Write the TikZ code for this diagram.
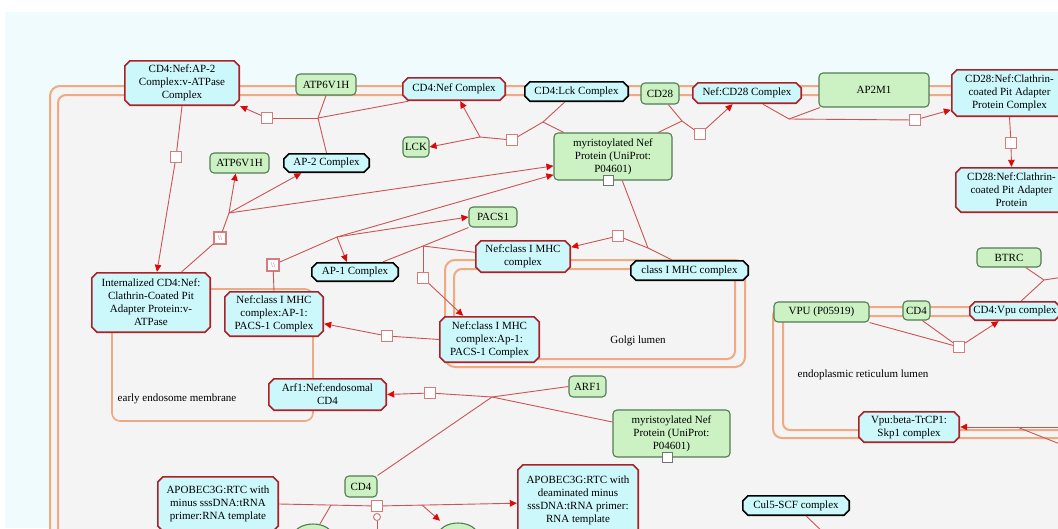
\documentclass[tikz,border=0pt]{standalone}
\usepackage{fontspec}
\setmainfont{Liberation Serif}
\usetikzlibrary{arrows.meta,calc,shapes.geometric}

\definecolor{cxfill}{RGB}{204,247,251}
\definecolor{cxred}{RGB}{172,32,40}
\definecolor{prfill}{RGB}{204,242,196}
\definecolor{prline}{RGB}{84,124,84}
\definecolor{membc}{RGB}{240,170,130}
\definecolor{rxnc}{RGB}{204,84,84}
\definecolor{arrc}{RGB}{222,8,8}
\definecolor{procbd}{RGB}{214,124,124}
\definecolor{cellbg}{RGB}{244,244,244}
\definecolor{outbg}{RGB}{239,251,252}

\begin{document}
\begin{tikzpicture}[x=1pt,y=-1pt,
  lbl/.style={font=\fontsize{11}{13}\selectfont, inner sep=0pt, align=center},
  % octagonal (chamfered) frame drawn inside the node box
  octbox/.style 2 args={path picture={
    \filldraw[draw=#1, fill=#2, line width=1.6pt, line join=miter]
      ([shift={(6pt,-0.8pt)}]path picture bounding box.north west)
      -- ([shift={(-6pt,-0.8pt)}]path picture bounding box.north east)
      -- ([shift={(-0.8pt,-6pt)}]path picture bounding box.north east)
      -- ([shift={(-0.8pt,6pt)}]path picture bounding box.south east)
      -- ([shift={(-6pt,0.8pt)}]path picture bounding box.south east)
      -- ([shift={(6pt,0.8pt)}]path picture bounding box.south west)
      -- ([shift={(0.8pt,6pt)}]path picture bounding box.south west)
      -- ([shift={(0.8pt,-6pt)}]path picture bounding box.north west)
      -- cycle;}},
  cplx/.style={lbl, rectangle, octbox={cxred}{cxfill}},
  cplxk/.style={lbl, rectangle, octbox={black}{cxfill}},
  prot/.style={lbl, rectangle, rounded corners=4pt, draw=prline, fill=prfill, line width=1.1pt},
  protel/.style={ellipse, draw=prline, fill=prfill, line width=1.1pt, inner sep=0pt},
  proc/.style={rectangle, draw=procbd, fill=white, line width=1.1pt, minimum size=11pt, inner sep=0pt},
  hproc/.style={proc, minimum size=12pt, text=rxnc, font=\fontsize{7.5}{7.5}\selectfont},
  statebox/.style={rectangle, draw=black!55, fill=white, line width=0.9pt, minimum size=10pt, inner sep=0pt},
  catal/.style={circle, draw=procbd, fill=white, line width=1pt, minimum size=7pt, inner sep=0pt},
  rx/.style={draw=rxnc, line width=0.9pt},
  rxa/.style={rx, -{Triangle[length=7pt,width=6.5pt,color=arrc]}},
  memb/.style={draw=membc, line width=2pt},
]
\useasboundingbox (0,0) rectangle (1058,528);
\clip (0,0) rectangle (1058,528);

% page and cell backgrounds
\fill[white] (0,0) rectangle (1058,528);
\fill[outbg] (5,12) rectangle (1058,528);
\fill[cellbg, rounded corners=10pt] (50,86) rectangle (1100,570);

% membranes
\draw[memb, rounded corners=10pt] (1100,86) -- (50,86) -- (50,570);
\draw[memb, rounded corners=8pt] (1100,95) -- (58,95) -- (58,570);
\draw[memb, rounded corners=10pt] (445,260) rectangle (745,367);
\draw[memb, rounded corners=8pt] (454,269) rectangle (735,359);
\draw[memb, rounded corners=9pt] (1100,307) -- (773,307) -- (773,438) -- (1100,438);
\draw[memb, rounded corners=7pt] (1100,316) -- (783,316) -- (783,430) -- (1100,430);
\draw[memb, line width=1.6pt, rounded corners=8pt] (112,289) rectangle (313,421);

% compartment names
\node[lbl] (golgi) at (638,341) {Golgi lumen};
\node[lbl] (eem) at (177,399) {early endosome membrane};
\node[lbl] (erl) at (863,375) {endoplasmic reticulum lumen};

% entities
\node[cplx, minimum width=116pt, minimum height=46pt] (ap2v) at (182,83) {CD4:Nef:AP-2\\Complex:v-ATPase\\Complex};
\node[prot, minimum width=60pt, minimum height=21pt] (atptop) at (326,84.5) {ATP6V1H};
\node[cplx, minimum width=104pt, minimum height=24pt] (cd4nef) at (454,89) {CD4:Nef Complex};
\node[cplxk, minimum width=105pt, minimum height=21pt] (cd4lck) at (576.5,91.5) {CD4:Lck Complex};
\node[prot, minimum width=38pt, minimum height=21pt] (cd28) at (660,93.5) {CD28};
\node[cplx, minimum width=110pt, minimum height=22pt] (nefcd28) at (747,93) {Nef:CD28 Complex};
\node[prot, minimum width=110pt, minimum height=34pt] (ap2m1) at (874,90) {AP2M1};
\node[cplx, minimum width=117pt, minimum height=48pt] (cd28clx) at (1009.5,93) {CD28:Nef:Clathrin-\\coated Pit Adapter\\Protein Complex};
\node[cplx, minimum width=113pt, minimum height=46pt] (cd28cl) at (1011.5,190) {CD28:Nef:Clathrin-\\coated Pit Adapter\\Protein};
\node[prot, minimum width=26pt, minimum height=20pt] (lck) at (416,147) {LCK};
\node[cplxk, minimum width=87pt, minimum height=20pt] (ap2) at (326.5,163) {AP-2 Complex};
\node[prot, minimum width=59pt, minimum height=20pt] (atp2) at (239.5,163) {ATP6V1H};
\node[prot, minimum width=118pt, minimum height=47pt] (myrnef1) at (613,156.5) {myristoylated Nef\\Protein (UniProt:\\P04601)};
\node[prot, minimum width=48pt, minimum height=20pt] (pacs1) at (493,217) {PACS1};
\node[cplx, minimum width=96pt, minimum height=33pt] (nefmhc) at (523,256.5) {Nef:class I MHC\\complex};
\node[cplxk, minimum width=119pt, minimum height=21pt] (mhc) at (689.5,270.5) {class I MHC complex};
\node[cplxk, minimum width=88pt, minimum height=20pt] (ap1) at (355,272) {AP-1 Complex};
\node[cplx, minimum width=100pt, minimum height=46pt] (nefmhcap1a) at (274,314) {Nef:class I MHC\\complex:AP-1:\\PACS-1 Complex};
\node[cplx, minimum width=120pt, minimum height=61pt] (internal) at (151,302.5) {Internalized CD4:Nef:\\Clathrin-Coated Pit\\Adapter Protein:v-\\ATPase};
\node[cplx, minimum width=101pt, minimum height=47pt] (nefmhcap1b) at (489.5,339.5) {Nef:class I MHC\\complex:Ap-1:\\PACS-1 Complex};
\node[cplx, minimum width=119pt, minimum height=33pt] (arf1cx) at (327.5,394.5) {Arf1:Nef:endosomal\\CD4};
\node[prot, minimum width=37pt, minimum height=21pt] (arf1) at (587.5,386.5) {ARF1};
\node[prot, minimum width=117pt, minimum height=47pt] (myrnef2) at (671.5,433.5) {myristoylated Nef\\Protein (UniProt:\\P04601)};
\node[cplx, minimum width=122pt, minimum height=72pt] (apodeam) at (578,500) {APOBEC3G:RTC with\\deaminated minus\\sssDNA:tRNA primer:\\RNA template};
\node[cplx, minimum width=122pt, minimum height=56pt] (apominus) at (218,504) {APOBEC3G:RTC with\\minus sssDNA:tRNA\\primer:RNA template};
\node[prot, minimum width=32pt, minimum height=21pt] (cd4low) at (361,486.5) {CD4};
\node[prot, minimum width=95pt, minimum height=20pt] (vpu) at (821.5,312) {VPU (P05919)};
\node[prot, minimum width=27pt, minimum height=19pt] (cd4er) at (916.5,310.5) {CD4};
\node[cplx, minimum width=92pt, minimum height=20pt] (cd4vpu) at (1015,311) {CD4:Vpu complex};
\node[prot, minimum width=64pt, minimum height=19pt] (btrc) at (1009,257.5) {BTRC};
\node[cplx, minimum width=102pt, minimum height=32pt] (vpubtrcp) at (909,427) {Vpu:beta-TrCP1:\\Skp1 complex};
\node[cplxk, minimum width=108pt, minimum height=21pt] (cul5) at (796,505.5) {Cul5-SCF complex};
\node[protel, minimum width=40pt, minimum height=26pt] (el1) at (313,537) {};
\node[protel, minimum width=40pt, minimum height=26pt] (el2) at (458,536) {};

% state boxes on the Nef proteins
\node[statebox] (st1) at ([xshift=-5pt]myrnef1.south) {};
\node[statebox] (st2) at ([xshift=-4.5pt]myrnef2.south) {};

% reaction: CD4:Nef + AP-2 + ATP6V1H
\coordinate (j1) at (318,118);
\node[proc] (s1) at (267,118) {};
\draw[rx] (cd4nef.195) -- (j1);
\draw[rx] (atptop.south) -- (j1);
\draw[rx] (ap2.north) -- (j1);
\draw[rx] (j1) -- (s1);
\draw[rxa] (s1) -- (ap2v.south east);

% internalization
\node[proc] (s2) at (176,157) {};
\draw[rx] (ap2v.south) -- (s2);
\draw[rxa] (s2) -- (internal.79);

% dissociation of the internalized complex
\node[hproc] (s3) at (220,238) {\textbackslash\textbackslash};
\coordinate (j2) at (229,213);
\draw[rx] (internal.45) -- (s3) -- (j2);
\draw[rxa] (j2) -- (atp2.250);
\draw[rxa] (j2) -- (ap2.202);
\draw[rxa] (j2) -- (myrnef1.189);

% dissociation of the AP-1:PACS-1 complex
\node[hproc] (s4) at (273,265) {\textbackslash\textbackslash};
\coordinate (j3) at (337,237);
\draw[rx] (nefmhcap1a.north) -- (s4) -- (j3);
\draw[rxa] (j3) -- (pacs1.west);
\draw[rxa] (j3) -- (ap1.129);
\draw[rxa] (j3) -- (myrnef1.197);

% AP-1 + PACS1 + Nef:class I MHC
\coordinate (j4) at (423,246);
\node[proc] (s5) at (423,278) {};
\draw[rx] (ap1.20) -- (j4);
\draw[rx] (pacs1.south west) -- (j4);
\draw[rx] (nefmhc.175) -- (j4);
\draw[rx] (j4) -- (s5);
\draw[rxa] (s5) -- (nefmhcap1b.138);

% Nef binds class I MHC
\coordinate (j5) at (648,248);
\node[proc] (s6) at (618,236) {};
\draw[rx] (mhc.149) -- (j5) -- (s6);
\draw[rx] (myrnef1.291) -- (j5);
\draw[rxa] (s6) -- (nefmhc.11);

% translocation to the endosome
\node[proc] (s7) at (387,336) {};
\draw[rx] (nefmhcap1b.west) -- (s7);
\draw[rxa] (s7) -- (nefmhcap1a.-11);

% Arf1 complex formation
\coordinate (j6) at (492,397);
\node[proc] (s8) at (430,393) {};
\draw[rx] (cd4low.north east) -- (j6);
\draw[rx] (arf1.west) -- (j6);
\draw[rx] (myrnef2.169) -- (j6);
\draw[rx] (j6) -- (s8);
\draw[rxa] (s8) -- (arf1cx.east);

% APOBEC3G deamination
\node[proc] (s9) at (377,506) {};
\node[catal] (c1) at (377,517) {};
\coordinate (b1) at (331,505);
\coordinate (b2) at (422,505);
\coordinate (cbot) at (377,545);
\draw[rx] (apominus.east) -- (s9);
\draw[rxa] (s9) -- (apodeam.183);
\draw[rx] (el1.62) -- (b1);
\draw[rxa, shorten >=7pt] (b2) -- (el2.140);
\draw[rx] (cbot) -- (c1);

% Nef displaces Lck
\coordinate (j7) at (543,122);
\coordinate (j8) at (480,137);
\node[proc] (s10) at (512,140) {};
\draw[rx] (cd4lck.222) -- (j7);
\draw[rx] (myrnef1.154) -- (j7);
\draw[rx] (j7) -- (s10) -- (j8);
\draw[rxa] (j8) -- (lck.east);
\draw[rxa] (j8) -- (cd4nef.297);

% Nef binds CD28
\coordinate (j9) at (682,121);
\node[proc] (s11) at (700,134) {};
\draw[rx] (cd28.307) -- (j9);
\draw[rx] (myrnef1.28) -- (j9);
\draw[rx] (j9) -- (s11);
\draw[rxa] (s11) -- (nefcd28.218);

% AP2M1 recruitment
\coordinate (j10) at (789,119);
\node[proc] (s12) at (915,120) {};
\draw[rx] (nefcd28.325) -- (j10);
\draw[rx] (ap2m1.198) -- (j10);
\draw[rx] (j10) -- (s12);
\draw[rxa] (s12) -- (cd28clx.196);

\node[proc] (s13) at (1011,143) {};
\draw[rx] (cd28clx.south) -- (s13);
\draw[rxa] (s13) -- (cd28cl.north);

% Vpu binds CD4 in the ER
\node[proc] (s14) at (959,347) {};
\draw[rx] (vpu.south east) -- (s14);
\draw[rx] (cd4er.-60) -- (s14);
\draw[rxa] (s14) -- (cd4vpu.212);

\coordinate (j11) at (1044,280);
\coordinate (o1) at (1070,276);
\draw[rx] (btrc.329) -- (j11);
\draw[rx] (j11) -- (cd4vpu.58);
\draw[rx] (j11) -- (o1);

\coordinate (o2) at (1070,427);
\coordinate (o3) at (1070,448);
\coordinate (j12) at (1017,427);
\draw[rxa] (o2) -- (vpubtrcp.east);
\draw[rx] (o3) -- (j12);

\coordinate (o4) at (826,535);
\draw[rx] (cul5.-46) -- (o4);
\end{tikzpicture}
\end{document}
